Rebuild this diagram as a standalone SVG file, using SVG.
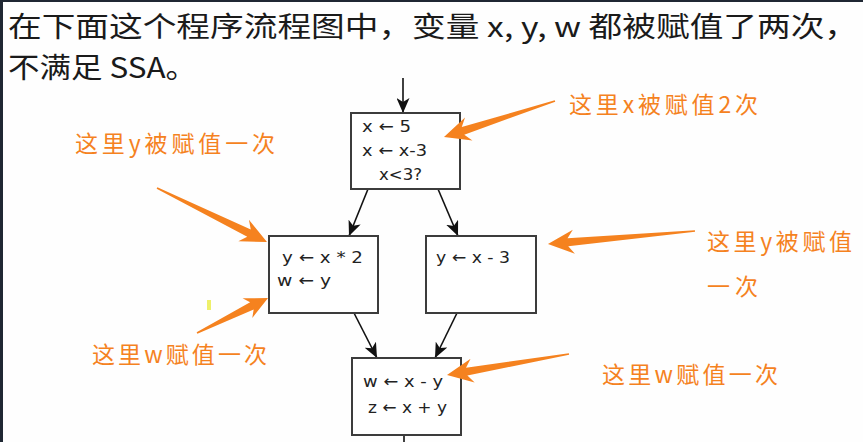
<svg xmlns="http://www.w3.org/2000/svg" width="863" height="442" viewBox="0 0 863 442">
<style>
.title{font-family:"Noto Sans CJK SC","Noto Sans",sans-serif;font-size:28px;fill:#1a1a1a}
.box{fill:#ffffff;stroke:#3c3c3c;stroke-width:2}
.code{font-family:"DejaVu Sans","Liberation Sans",sans-serif;font-size:16px;fill:#222}
.conn{stroke:#111;stroke-width:1.6;fill:none}
.note{font-family:"Noto Sans CJK SC","Noto Sans",sans-serif;font-size:23px;fill:#f5821f}
.orange{fill:#f5821f}
</style>
<defs>
<marker id="ah" markerUnits="userSpaceOnUse" markerWidth="15" markerHeight="13" refX="15" refY="6.5" orient="auto">
<path d="M0,0 L15,6.5 L0,13 L4,6.5 Z" fill="#111"/>
</marker>
</defs>
<rect x="0" y="0" width="863" height="442" fill="#fefefe"/>
<rect x="0" y="0" width="3" height="442" fill="#1f2733"/>
<rect x="0" y="0" width="863" height="2" fill="#1f2733"/>
<g id="title">
<text class="title" x="8" y="37" textLength="850" lengthAdjust="spacingAndGlyphs">在下面这个程序流程图中，变量 x, y, w 都被赋值了两次，</text>
<text class="title" x="8" y="78" textLength="189" lengthAdjust="spacingAndGlyphs">不满足 SSA。</text>
</g>
<g id="connectors">
<line class="conn" x1="403" y1="78" x2="403" y2="113" marker-end="url(#ah)"/>
<line class="conn" x1="368" y1="189" x2="349" y2="236" marker-end="url(#ah)"/>
<line class="conn" x1="438" y1="189" x2="458" y2="236" marker-end="url(#ah)"/>
<line class="conn" x1="354" y1="313" x2="377" y2="358" marker-end="url(#ah)"/>
<line class="conn" x1="457" y1="313" x2="435" y2="358" marker-end="url(#ah)"/>
<line class="conn" x1="404" y1="435" x2="404" y2="442"/>
</g>
<g id="node-entry">
<rect class="box" x="351" y="113" width="109" height="76"/>
<text class="code" x="362" y="132" textLength="49" lengthAdjust="spacingAndGlyphs">x ← 5</text>
<text class="code" x="362" y="156" textLength="65" lengthAdjust="spacingAndGlyphs">x ← x-3</text>
<text class="code" x="379" y="180" textLength="43" lengthAdjust="spacingAndGlyphs">x&lt;3?</text>
</g>
<g id="node-left">
<rect class="box" x="269" y="236" width="109" height="77"/>
<text class="code" x="282" y="263" textLength="81" lengthAdjust="spacingAndGlyphs">y ← x * 2</text>
<text class="code" x="277" y="286" textLength="54" lengthAdjust="spacingAndGlyphs">w ← y</text>
</g>
<g id="node-right">
<rect class="box" x="426" y="236" width="110" height="77"/>
<text class="code" x="436" y="263" textLength="74" lengthAdjust="spacingAndGlyphs">y ← x - 3</text>
</g>
<g id="node-join">
<rect class="box" x="352" y="358" width="109" height="77"/>
<text class="code" x="363" y="387" textLength="80" lengthAdjust="spacingAndGlyphs">w ← x - y</text>
<text class="code" x="368" y="413" textLength="79" lengthAdjust="spacingAndGlyphs">z ← x + y</text>
</g>
<g id="annotations">
<path class="orange" transform="translate(555 101) rotate(162.03)" d="M0,-0.8 L96.7,-4 L90.7,-12 L116.7,0 L90.7,12 L96.7,4 L0,0.8 Z"/>
<path class="orange" transform="translate(157 188) rotate(26.14)" d="M0,-0.8 L102.5,-4 L96.5,-12 L122.5,0 L96.5,12 L102.5,4 L0,0.8 Z"/>
<path class="orange" transform="translate(197 333) rotate(-26.24)" d="M0,-0.8 L61.2,-4 L56.2,-11 L79.2,0 L56.2,11 L61.2,4 L0,0.8 Z"/>
<path class="orange" transform="translate(695 231) rotate(174.95)" d="M0,-0.8 L127.6,-4 L121.6,-12 L147.6,0 L121.6,12 L127.6,4 L0,0.8 Z"/>
<path class="orange" transform="translate(569 354) rotate(170.23)" d="M0,-0.8 L103.8,-4 L97.8,-12 L123.8,0 L97.8,12 L103.8,4 L0,0.8 Z"/>
<text class="note" x="569" y="113" textLength="189" lengthAdjust="spacing">这里x被赋值2次</text>
<text class="note" x="75" y="152" textLength="200" lengthAdjust="spacing">这里y被赋值一次</text>
<text class="note" x="92" y="363" textLength="175" lengthAdjust="spacing">这里w赋值一次</text>
<text class="note" x="707" y="250" textLength="145" lengthAdjust="spacing">这里y被赋值</text>
<text class="note" x="707" y="295" textLength="51" lengthAdjust="spacing">一次</text>
<text class="note" x="602" y="383" textLength="176" lengthAdjust="spacing">这里w赋值一次</text>
<rect x="207" y="300" width="4" height="10" fill="#eef06a"/>
</g>
</svg>
